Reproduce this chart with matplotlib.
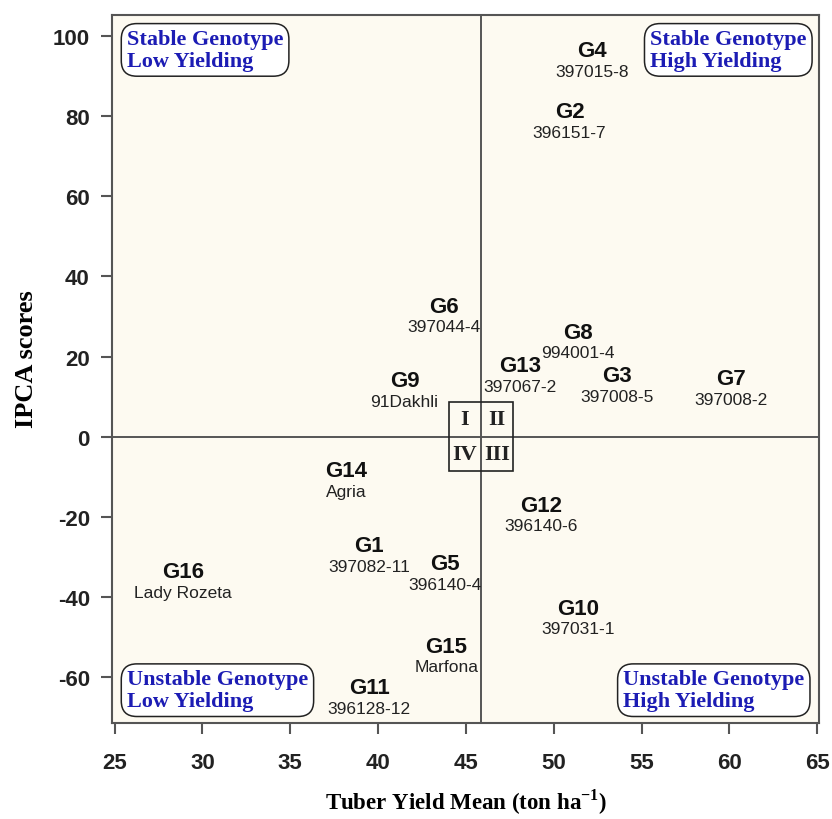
import matplotlib
matplotlib.use('Agg')
import matplotlib.pyplot as plt
from matplotlib.patches import Rectangle

plt.rcParams['font.family'] = ['Liberation Sans', 'DejaVu Sans']
plt.rcParams['axes.unicode_minus'] = False
plt.rcParams['mathtext.fontset'] = 'custom'
plt.rcParams['mathtext.rm'] = 'Liberation Serif:bold'
plt.rcParams['mathtext.bf'] = 'Liberation Serif:bold'

# genotype codes, clone names, mean tuber yield and IPCA scores
codes = ['G1', 'G2', 'G3', 'G4', 'G5', 'G6', 'G7', 'G8',
         'G9', 'G10', 'G11', 'G12', 'G13', 'G14', 'G15', 'G16']
names = ['397082-11', '396151-7', '397008-5', '397015-8', '396140-4', '397044-4',
         '397008-2', '994001-4', '91Dakhli', '397031-1', '396128-12', '396140-6',
         '397067-2', 'Agria', 'Marfona', 'Lady Rozeta']
yield_mean = [39.5, 50.9, 53.6, 52.2, 43.8, 43.75, 60.1, 51.4,
              41.5, 51.4, 39.5, 49.3, 48.1, 38.2, 43.9, 28.9]
ipca = [-29.7, 78.6, 12.7, 93.9, -34.2, 30.0, 12.0, 23.5,
        11.5, -45.4, -65.2, -19.7, 15.2, -11.0, -54.9, -36.2]

grand_mean = 45.85
quadrants = ['I', 'II', 'IV', 'III']
corner_text = ['Stable Genotype\nLow Yielding', 'Stable Genotype\nHigh Yielding',
               'Unstable Genotype\nLow Yielding', 'Unstable Genotype\nHigh Yielding']

fig = plt.figure(figsize=(8.32, 8.2), dpi=100)
ax = fig.add_axes([0.1346, 0.1171, 0.8498, 0.8634])
ax.set_facecolor('#fdfaf1')

ax.set_xlim(24.85, 65.1)
ax.set_ylim(-71.5, 105.3)
ax.set_xticks(range(25, 66, 5))
ax.set_yticks(range(-60, 101, 20))
ax.tick_params(direction='out', length=8, width=1.5, color='#555555',
               labelsize=16, labelcolor='#222222')
ax.tick_params(axis='x', pad=13)
ax.tick_params(axis='y', pad=8)
for lab in ax.get_xticklabels() + ax.get_yticklabels():
    lab.set_fontweight('bold')
for s in ax.spines.values():
    s.set_color('#555555')
    s.set_linewidth(1.5)

# reference lines
ax.axvline(grand_mean, color='#555555', lw=1.4, zorder=1)
ax.axhline(0, color='#555555', lw=1.4, zorder=1)

# genotype labels
for c, n, x, y in zip(codes, names, yield_mean, ipca):
    ax.annotate(c, (x, y), xytext=(0, 7.5), textcoords='offset points',
                ha='center', va='center', fontsize=16, fontweight='bold',
                color='#111111')
    ax.annotate(n, (x, y), xytext=(0, -7.5), textcoords='offset points',
                ha='center', va='center', fontsize=12.5, color='#222222')

# quadrant key in the centre
w, h = 1.83, 8.6
ax.add_patch(Rectangle((grand_mean - w, -h), 2 * w, 2 * h, fill=False,
                       ec='#222222', lw=1.2, zorder=2))
qpos = [(grand_mean - w / 2, h / 2), (grand_mean + w / 2, h / 2),
        (grand_mean - w / 2, -h / 2), (grand_mean + w / 2, -h / 2)]
for q, (qx, qy) in zip(quadrants, qpos):
    ax.text(qx, qy, q, ha='center', va='center', fontsize=16, fontweight='bold',
            family='Liberation Serif', color='#222222')

# corner boxes
box = dict(boxstyle='round,pad=0.25,rounding_size=0.7', fc='white', ec='#222222', lw=1.1)
cpos = [(0.021, 0.980, 'top'), (0.761, 0.980, 'top'),
        (0.021, 0.017, 'bottom'), (0.723, 0.017, 'bottom')]
for t, (cx, cy, va) in zip(corner_text, cpos):
    ax.text(cx, cy, t, transform=ax.transAxes, ha='left', va=va, fontsize=16,
            fontweight='bold', family='Liberation Serif', color='#1c1cb4',
            linespacing=1.1, bbox=box)

ax.set_xlabel(r'Tuber Yield Mean (ton ha$^{\mathbf{-1}}$)', family='Liberation Serif',
              fontsize=16.5, fontweight='bold')
ax.xaxis.set_label_coords(0.5, -0.09)
ax.set_ylabel('IPCA scores', family='Liberation Serif', fontsize=19,
              fontweight='bold')
ax.yaxis.set_label_coords(-0.105, 0.515)

fig.savefig('out.png', dpi=100)
